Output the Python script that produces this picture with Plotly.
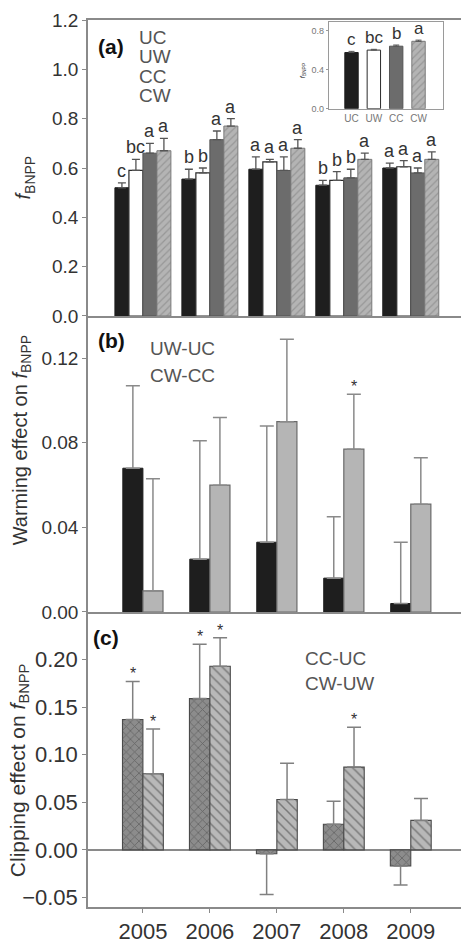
import plotly.graph_objects as go

years = [2005, 2006, 2007, 2008, 2009]

# Panel (a): fBNPP per treatment
a_UC = [0.52, 0.555, 0.595, 0.53, 0.60]
a_UC_err = [0.02, 0.04, 0.05, 0.02, 0.02]
a_UW = [0.59, 0.58, 0.625, 0.55, 0.605]
a_UW_err = [0.045, 0.02, 0.01, 0.035, 0.025]
a_CC = [0.66, 0.715, 0.59, 0.56, 0.58]
a_CC_err = [0.04, 0.035, 0.055, 0.035, 0.02]
a_CW = [0.67, 0.77, 0.68, 0.635, 0.635]
a_CW_err = [0.05, 0.03, 0.035, 0.025, 0.03]
a_letters_UC = ["c", "b", "a", "b", "a"]
a_letters_UW = ["bc", "b", "a", "b", "a"]
a_letters_CC = ["a", "a", "a", "b", "a"]
a_letters_CW = ["a", "a", "a", "a", "a"]

# Inset: mean over years
inset_cats = ["UC", "UW", "CC", "CW"]
inset_vals = [0.575, 0.60, 0.64, 0.69]
inset_err = [0.012, 0.008, 0.012, 0.012]
inset_letters = ["c", "bc", "b", "a"]

# Panel (b): warming effect
warm_U = [0.068, 0.025, 0.033, 0.016, 0.004]
warm_U_err = [0.039, 0.056, 0.055, 0.029, 0.029]
warm_C = [0.010, 0.060, 0.090, 0.077, 0.051]
warm_C_err = [0.053, 0.032, 0.039, 0.026, 0.022]
warm_C_star = [False, False, False, True, False]

# Panel (c): clipping effect
clip_U = [0.137, 0.159, -0.004, 0.027, -0.017]
clip_U_err = [0.040, 0.057, 0.043, 0.024, 0.020]
clip_W = [0.080, 0.193, 0.053, 0.087, 0.031]
clip_W_err = [0.047, 0.030, 0.038, 0.042, 0.023]
clip_U_star = [True, True, False, False, False]
clip_W_star = [True, True, False, True, False]

FONT = "Liberation Sans, Arial, sans-serif"
AX = "#8a8a8a"
TXT = "#333333"

fig = go.Figure()


def one_sided(vals, errs):
    up = [e if v >= 0 else 0 for v, e in zip(vals, errs)]
    dn = [0 if v >= 0 else e for v, e in zip(vals, errs)]
    return up, dn


# ---------- Panel (a)
wa = 0.209
a_series = [
    (a_UC, a_UC_err, dict(color="#1e1e1e", line=dict(color="#1e1e1e", width=1)), a_letters_UC),
    (a_UW, a_UW_err, dict(color="#ffffff", line=dict(color="#2a2a2a", width=1.2)), a_letters_UW),
    (a_CC, a_CC_err, dict(color="#6c6c6c", line=dict(color="#555555", width=1)), a_letters_CC),
    (a_CW, a_CW_err, dict(color="#b4b4b4", line=dict(color="#7a7a7a", width=1),
                          pattern=dict(shape="/", fgcolor="#7a7a7a", size=5, solidity=0.25,
                                       fillmode="overlay")), a_letters_CW),
]
for i, (vals, errs, mk, letters) in enumerate(a_series):
    off = (i - 2) * wa
    fig.add_trace(go.Bar(x=years, y=vals, width=wa, offset=off, marker=mk,
                         error_y=dict(type="data", array=errs, arrayminus=[0] * len(errs),
                                      symmetric=False, color="#555555", thickness=1.3, width=4),
                         xaxis="x", yaxis="y", showlegend=False))
    for yr, v, e, t in zip(years, vals, errs, letters):
        fig.add_annotation(x=yr + off + wa / 2, y=v + e, text=t, xref="x", yref="y",
                           showarrow=False, yanchor="bottom", xanchor="center",
                           font=dict(family=FONT, size=18, color=TXT))

# ---------- Panel (b)
wb = 0.3
fig.add_trace(go.Bar(x=years, y=warm_U, width=wb, offset=-wb,
                     marker=dict(color="#1e1e1e", line=dict(color="#1e1e1e", width=1)),
                     error_y=dict(type="data", array=warm_U_err, arrayminus=[0] * 5, symmetric=False,
                                  color="#8a8a8a", thickness=1.5, width=7),
                     xaxis="x2", yaxis="y2", showlegend=False))
fig.add_trace(go.Bar(x=years, y=warm_C, width=wb, offset=0,
                     marker=dict(color="#b5b5b5", line=dict(color="#6a6a6a", width=1.2)),
                     error_y=dict(type="data", array=warm_C_err, arrayminus=[0] * 5, symmetric=False,
                                  color="#8a8a8a", thickness=1.5, width=7),
                     xaxis="x2", yaxis="y2", showlegend=False))
for yr, v, e, s in zip(years, warm_C, warm_C_err, warm_C_star):
    if s:
        fig.add_annotation(x=yr + wb / 2, y=v + e, text="*", xref="x2", yref="y2",
                           showarrow=False, yanchor="bottom", yshift=-3,
                           font=dict(family=FONT, size=16, color=TXT))

# ---------- Panel (c)
wc = 0.305
for vals, errs, stars, off, mk in [
    (clip_U, clip_U_err, clip_U_star, -wc,
     dict(color="#8c8c8c", line=dict(color="#4a4a4a", width=1.1),
          pattern=dict(shape="x", fgcolor="#3c3c3c", size=6, solidity=0.25, fillmode="overlay"))),
    (clip_W, clip_W_err, clip_W_star, 0,
     dict(color="#b8b8b8", line=dict(color="#4a4a4a", width=1.1),
          pattern=dict(shape="\\", fgcolor="#3c3c3c", size=7, solidity=0.22, fillmode="overlay"))),
]:
    up, dn = one_sided(vals, errs)
    fig.add_trace(go.Bar(x=years, y=vals, width=wc, offset=off, marker=mk,
                         error_y=dict(type="data", array=up, arrayminus=dn, symmetric=False,
                                      color="#808080", thickness=1.5, width=7),
                         xaxis="x3", yaxis="y3", showlegend=False))
    for yr, v, e, s in zip(years, vals, errs, stars):
        if s:
            fig.add_annotation(x=yr + off + wc / 2, y=v + e, text="*", xref="x3", yref="y3",
                               showarrow=False, yanchor="bottom", yshift=-3,
                               font=dict(family=FONT, size=16, color=TXT))

# ---------- Inset
inset_marks = [
    dict(color="#1e1e1e", line=dict(color="#1e1e1e", width=1)),
    dict(color="#ffffff", line=dict(color="#2a2a2a", width=1)),
    dict(color="#6c6c6c", line=dict(color="#555555", width=1)),
    dict(color="#b4b4b4", line=dict(color="#7a7a7a", width=1),
         pattern=dict(shape="/", fgcolor="#7a7a7a", size=5, solidity=0.25, fillmode="overlay")),
]
for c, v, e, mk in zip(inset_cats, inset_vals, inset_err, inset_marks):
    fig.add_trace(go.Bar(x=[c], y=[v], width=0.6, marker=mk,
                         error_y=dict(type="data", array=[e], arrayminus=[0], symmetric=False,
                                      color="#555555", thickness=1, width=3),
                         xaxis="x4", yaxis="y4", showlegend=False))
for c, v, e, t in zip(inset_cats, inset_vals, inset_err, inset_letters):
    fig.add_annotation(x=c, y=v + e, text=t, xref="x4", yref="y4", showarrow=False,
                       yanchor="bottom", font=dict(family=FONT, size=17, color=TXT))

xr = [2004.18, 2009.75]
common_x = dict(range=xr, showgrid=False, zeroline=False, showline=True, linecolor=AX, linewidth=1.5,
                domain=[0, 1], fixedrange=True)
common_y = dict(showgrid=False, showline=True, linecolor=AX, linewidth=1.5, ticks="outside",
                ticklen=4, tickcolor=AX, tickwidth=1.3)

fig.update_layout(
    width=461, height=944,
    margin=dict(l=88, r=0, t=20, b=23),
    paper_bgcolor="white", plot_bgcolor="white",
    barmode="overlay",
    font=dict(family=FONT, color=TXT),
    xaxis=dict(**common_x, anchor="y", mirror=True, showticklabels=False, ticks=""),
    yaxis=dict(**common_y, domain=[0.6663, 1], range=[0, 1.2], tickvals=[0, 0.2, 0.4, 0.6, 0.8, 1.0, 1.2],
               tickformat=".1f", tickfont=dict(size=19, color=TXT), zeroline=False, anchor="x"),
    xaxis2=dict(**common_x, anchor="y2", showticklabels=False, ticks=""),
    yaxis2=dict(**common_y, domain=[0.3326, 0.6663], range=[0, 0.14], tickvals=[0, 0.04, 0.08, 0.12],
                tickformat=".2f", tickfont=dict(size=19, color=TXT), zeroline=False, anchor="x2"),
    xaxis3=dict(**common_x, anchor="y3", tickvals=years, ticks="outside", ticklen=4, tickcolor=AX,
                tickwidth=1.3, tickfont=dict(size=22, color=TXT)),
    yaxis3=dict(**common_y, domain=[0, 0.3326], range=[-0.06, 0.25],
                tickvals=[-0.05, 0, 0.05, 0.10, 0.15, 0.20], tickformat=".2f",
                tickfont=dict(size=22, color=TXT), zeroline=True, zerolinecolor=AX, zerolinewidth=1.5,
                anchor="x3"),
    xaxis4=dict(domain=[0.646, 0.952], anchor="y4", range=[-1.01, 4.1], showgrid=False,
                showline=True, mirror=True, linecolor="#9a9a9a", linewidth=1.2,
                tickfont=dict(size=10, color="#777777"), ticks="", fixedrange=True),
    yaxis4=dict(domain=[0.900, 0.998], anchor="x4", range=[0, 0.89], tickvals=[0, 0.4, 0.8],
                tickformat=".1f", showgrid=False, showline=True, mirror=True, linecolor="#9a9a9a",
                linewidth=1.2, ticks="outside", ticklen=2, tickcolor="#9a9a9a",
                tickfont=dict(size=9, color="#777777"), zeroline=False),
)

# Axis titles
def ptx(px):
    return (px - 88) / 373.0


def pty(py):
    return (921 - py) / 901.0


for text, x, y, size in [
    ("<i>f</i><sub>BNPP</sub>", 25, 180, 20),
    ("Warming effect on <i>f</i><sub>BNPP</sub>", 21, 447, 20),
    ("Clipping effect on <i>f</i><sub>BNPP</sub>", 19, 782, 21),
    ("<i>f</i><sub>BNPP</sub>", 303, 72, 7),
]:
    fig.add_annotation(x=ptx(x), y=pty(y), xref="paper", yref="paper", text=text, textangle=-90,
                       showarrow=False, xanchor="center", yanchor="middle",
                       font=dict(family=FONT, size=size, color=TXT))

# Panel labels
for text, x, y in [("(a)", 96, 46.5), ("(b)", 96, 346), ("(c)", 91, 647)]:
    fig.add_annotation(x=ptx(x), y=pty(y), xref="paper", yref="paper", text="<b>%s</b>" % text,
                       showarrow=False, xanchor="left", yanchor="middle",
                       font=dict(family=FONT, size=21, color="#111111"))

# Legend texts
for text, x, y in [("UC", 137, 37.5), ("UW", 137, 57.5), ("CC", 137, 77.5), ("CW", 137, 96.5),
                   ("UW-UC", 148, 354), ("CW-CC", 148, 381),
                   ("CC-UC", 303, 669), ("CW-UW", 303, 693.5)]:
    fig.add_annotation(x=ptx(x), y=pty(y), xref="paper", yref="paper", text=text,
                       showarrow=False, xanchor="left", yanchor="middle",
                       font=dict(family=FONT, size=19, color="#555555"))

fig.write_html("out.html", config={"displayModeBar": False},
               post_script="document.body.style.margin='0';document.body.style.overflow='hidden';")
